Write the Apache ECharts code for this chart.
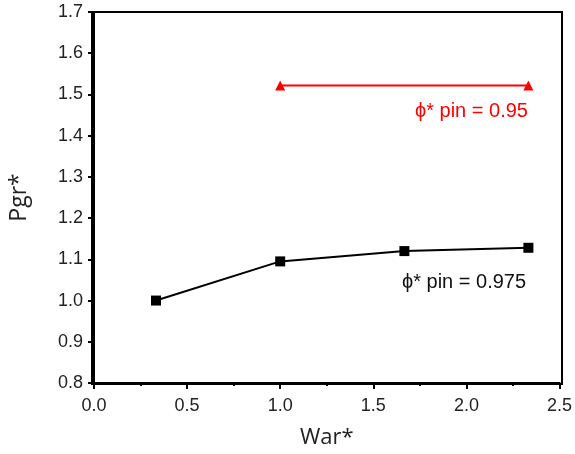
<!DOCTYPE html>
<html><head><meta charset="utf-8">
<script src="https://cdn.jsdelivr.net/npm/echarts@6/dist/echarts.min.js"></script>
<style>html,body{margin:0;padding:0;background:#fff}#c{width:575px;height:454px}</style>
</head><body><div id="c"></div>
<script>
const warBlack = [0.333, 1.0, 1.667, 2.333];
const pgrBlack = [1.0, 1.095, 1.12, 1.128];
const warRed = [1.0, 2.333];
const pgrRed = [1.522, 1.522];
const labelBlack = 'ϕ* pin = 0.975';
const labelRed = 'ϕ* pin = 0.95';

const chart = echarts.init(document.getElementById('c'));
const axisFont = {fontFamily: 'Liberation Sans', fontSize: 18, color: '#222'};
chart.setOption({
  animation: false,
  grid: {left: 92, right: 13, top: 12, bottom: 70},
  xAxis: {
    type: 'value', min: 0, max: 2.5, interval: 0.5,
    name: 'War*', nameLocation: 'middle', nameGap: 44,
    nameTextStyle: {fontFamily: 'Open Sans', fontSize: 22, color: '#222'},
    axisLine: {lineStyle: {color: '#000', width: 2}},
    axisTick: {inside: false, length: 6, lineStyle: {color: '#000', width: 2}},
    minorTick: {show: true, splitNumber: 2, length: 3, lineStyle: {color: '#000', width: 2}},
    axisLabel: Object.assign({margin: 14, formatter: v => v.toFixed(1)}, axisFont),
    splitLine: {show: false}
  },
  yAxis: {
    type: 'value', min: 0.8, max: 1.7, interval: 0.1,
    name: 'Pgr*', nameLocation: 'middle', nameGap: 63,
    nameTextStyle: {fontFamily: 'Open Sans', fontSize: 23, color: '#222'},
    axisLine: {lineStyle: {color: '#000', width: 2}},
    axisTick: {length: 6, lineStyle: {color: '#000', width: 2}},
    minorTick: {show: true, splitNumber: 2, length: 3, lineStyle: {color: '#000', width: 2}},
    axisLabel: Object.assign({margin: 11, formatter: v => v.toFixed(1)}, axisFont),
    splitLine: {show: false}
  },
  graphic: [
    {type: 'rect', shape: {x: 92, y: 12, width: 470, height: 372}, style: {fill: 'none', stroke: '#000', lineWidth: 2}, silent: true, z: 1},
    {type: 'text', left: 402, top: 272, style: {text: labelBlack, fontFamily: 'Liberation Sans', fontSize: 20, fill: '#111'}},
    {type: 'text', left: 415, top: 101, style: {text: labelRed, fontFamily: 'Liberation Sans', fontSize: 20, fill: '#ff0000'}}
  ],
  series: [
    {type: 'line', data: warBlack.map((x, i) => [x, pgrBlack[i]]),
     symbol: 'rect', symbolSize: 10, itemStyle: {color: '#000'}, lineStyle: {color: '#000', width: 2}, z: 3},
    {type: 'line', data: warRed.map((x, i) => [x, pgrRed[i]]),
     symbol: 'triangle', symbolSize: 10, itemStyle: {color: '#ff0000'}, lineStyle: {color: '#ff0000', width: 2}, z: 3}
  ]
});
</script></body></html>
